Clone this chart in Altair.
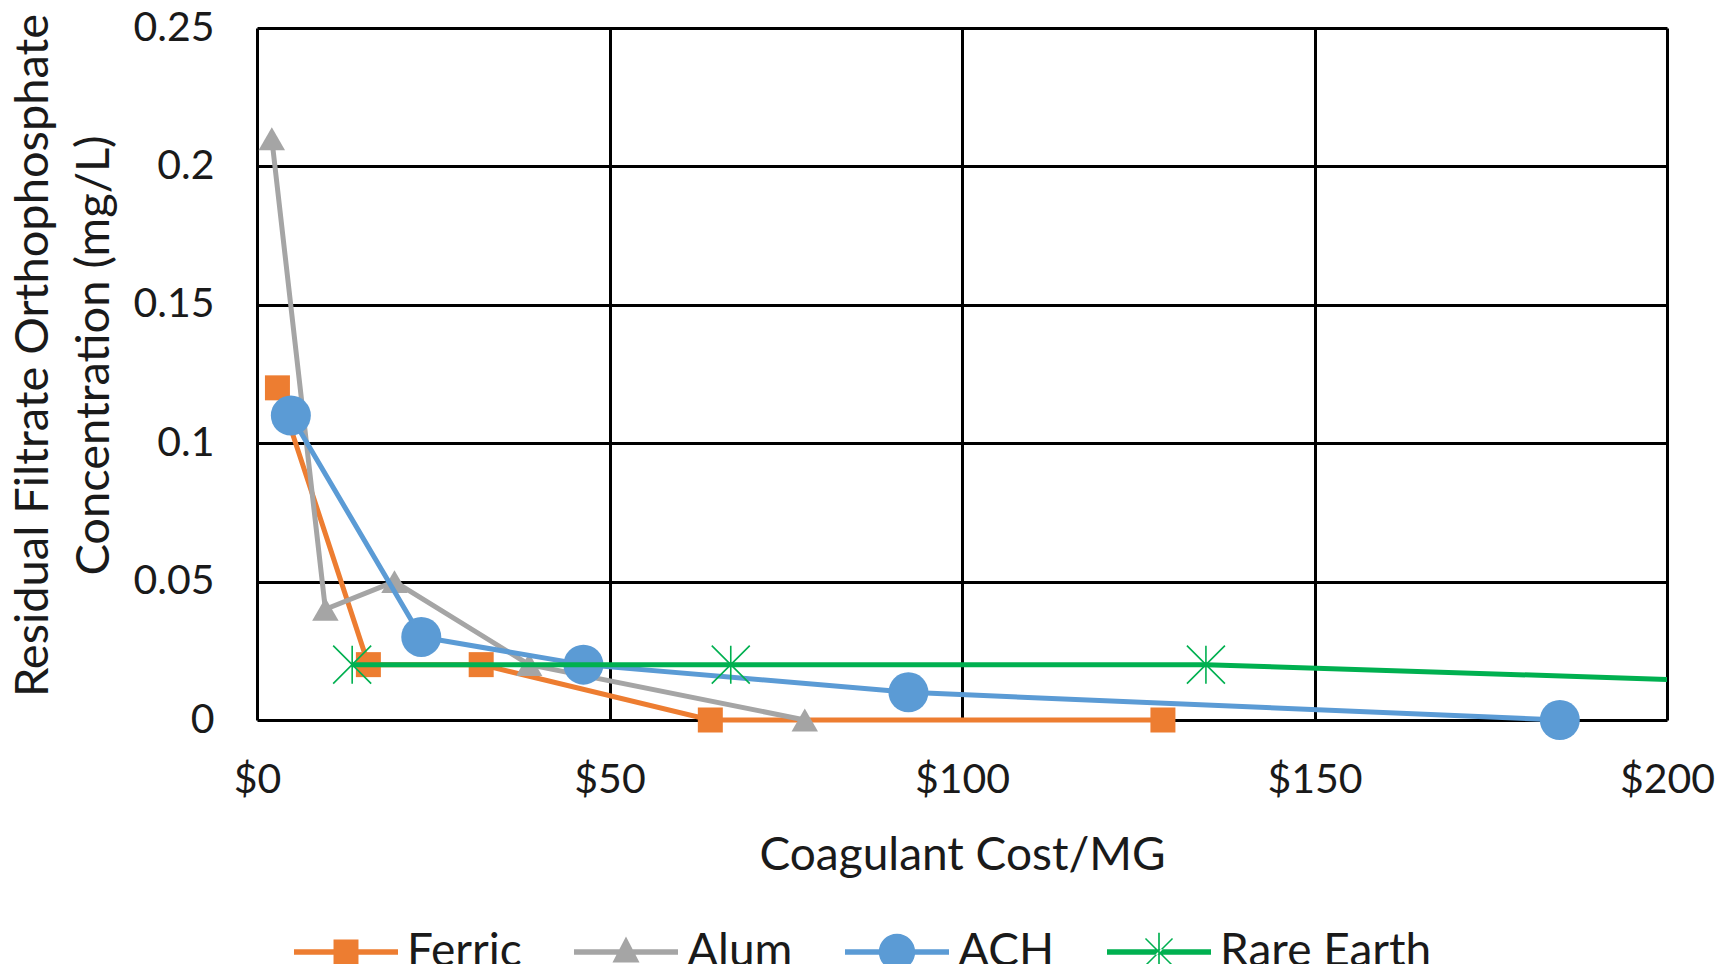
import altair as alt
import pandas as pd

series_names = ["Ferric", "Alum", "ACH", "Rare Earth"]
series_colors = ["#ED7D31", "#A5A5A5", "#5B9BD5", "#00B050"]

ferric_cost = [2.9, 15.8, 31.8, 64.3, 128.5]
ferric_conc = [0.12, 0.02, 0.02, 0.0, 0.0]
alum_cost = [2.1, 9.7, 19.5, 38.6, 77.7]
alum_conc = [0.21, 0.04, 0.05, 0.02, 0.0]
ach_cost = [4.8, 23.3, 46.3, 92.4, 184.8]
ach_conc = [0.11, 0.03, 0.02, 0.01, 0.0]
re_cost = [13.5, 67.2, 134.6, 269.2]
re_conc = [0.02, 0.02, 0.02, 0.009]

x_ticks = [0, 50, 100, 150, 200]
y_ticks = [0, 0.05, 0.1, 0.15, 0.2, 0.25]

costs = [ferric_cost, alum_cost, ach_cost, re_cost]
concs = [ferric_conc, alum_conc, ach_conc, re_conc]

rows = []
for name, cs, vs in zip(series_names, costs, concs):
    for i, (c, v) in enumerate(zip(cs, vs)):
        rows.append({"series": name, "cost": c, "conc": v, "idx": i})
df = pd.DataFrame(rows)

FONT = "Lato"
TXT = "#1a1a1a"

x_enc = alt.X("cost:Q", scale=alt.Scale(domain=[0, 200], nice=False, zero=True),
              axis=alt.Axis(values=x_ticks, format="$.0f", title="Coagulant Cost/MG",
                            grid=True, gridColor="black", gridWidth=3, ticks=False,
                            domain=False, labelFont=FONT, labelFontSize=41,
                            labelColor=TXT, labelPadding=40, labelFlush=False,
                            labelOverlap=False,
                            titleFont=FONT, titleFontSize=46, titleFontWeight="normal",
                            titleColor=TXT, titlePadding=33))
y_enc = alt.Y("conc:Q", scale=alt.Scale(domain=[0, 0.25], nice=False),
              axis=alt.Axis(values=y_ticks, format="~g",
                            title=["Residual Filtrate Orthophosphate", "Concentration (mg/L)"],
                            grid=True, gridColor="black", gridWidth=3, ticks=False,
                            domain=False, labelFont=FONT, labelFontSize=41,
                            labelColor=TXT, labelPadding=43, labelFlush=False,
                            labelOverlap=False,
                            titleFont=FONT, titleFontSize=47, titleFontWeight="normal",
                            titleColor=TXT, titleLineHeight=61,
                            titleAngle=270, titleBaseline="top", titleAlign="center",
                            titleX=-247, titleY=327))

base = alt.Chart(df)

marker_shapes = {
    "Ferric": ("square", 625, True),
    "Alum": ("triangle-up", 700, True),
    "ACH": ("circle", 1600, True),
    "Rare Earth": ("M0,-1L0,1M-1,-1L1,1M-1,1L1,-1", 1444, False),
}

layers = []
for name, col in zip(series_names, series_colors):
    sub = base.transform_filter(alt.datum.series == name)
    line = sub.mark_line(color=col, strokeWidth=5, clip=(name == "Rare Earth")).encode(
        x=x_enc, y=y_enc, order="idx:Q")
    shp, sz, filled = marker_shapes[name]
    if filled:
        pts = sub.mark_point(shape=shp, size=sz, filled=True, color=col, opacity=1).encode(
            x=x_enc, y=y_enc)
    else:
        pts = sub.mark_point(shape=shp, size=sz, filled=False, color=col, opacity=1,
                             strokeWidth=1.6, clip=True).encode(x=x_enc, y=y_enc)
    layers += [line, pts]

# legend symbols: line + marker drawn as one filled path
bar = "M-1,-0.055L1,-0.055L1,0.055L-1,0.055Z"
legend_paths = [
    bar + "M-0.24,-0.24L0.24,-0.24L0.24,0.24L-0.24,0.24Z",
    bar + "M0,-0.3L0.26,0.2L-0.26,0.2Z",
    bar + "M-0.35,0A0.35,0.35 0 1,1 0.35,0A0.35,0.35 0 1,1 -0.35,0Z",
    bar + "M-0.016,-0.37L0.016,-0.37L0.016,0.37L-0.016,0.37Z"
          "M-0.25,-0.27L0.27,0.25L0.25,0.27L-0.27,-0.25Z"
          "M0.25,-0.27L-0.27,0.25L-0.25,0.27L0.27,-0.25Z",
]

legend = alt.Legend(orient="none", legendX=37, legendY=872, direction="horizontal",
                    columns=4, title=None, symbolSize=10816, symbolStrokeWidth=0,
                    symbolOpacity=1, labelFont=FONT, labelFontSize=46,
                    labelColor=TXT, labelOffset=9, columnPadding=52,
                    labelLimit=0)

dummy = base.mark_point(filled=True, opacity=0).encode(
    x=x_enc, y=y_enc,
    color=alt.Color("series:N", scale=alt.Scale(domain=series_names, range=series_colors),
                    legend=legend, sort=series_names),
    shape=alt.Shape("series:N", scale=alt.Scale(domain=series_names, range=legend_paths),
                    legend=legend, sort=series_names),
)
layers.append(dummy)

chart = alt.layer(*layers).properties(
    width=1410, height=692,
    autosize=alt.AutoSizeParams(type="none"),
    padding={"left": 249, "top": 20, "right": 55, "bottom": 244},
).configure_view(stroke="black", strokeWidth=3).configure(background="white")

chart.save("out.html", embed_options={"renderer": "svg", "actions": False})
